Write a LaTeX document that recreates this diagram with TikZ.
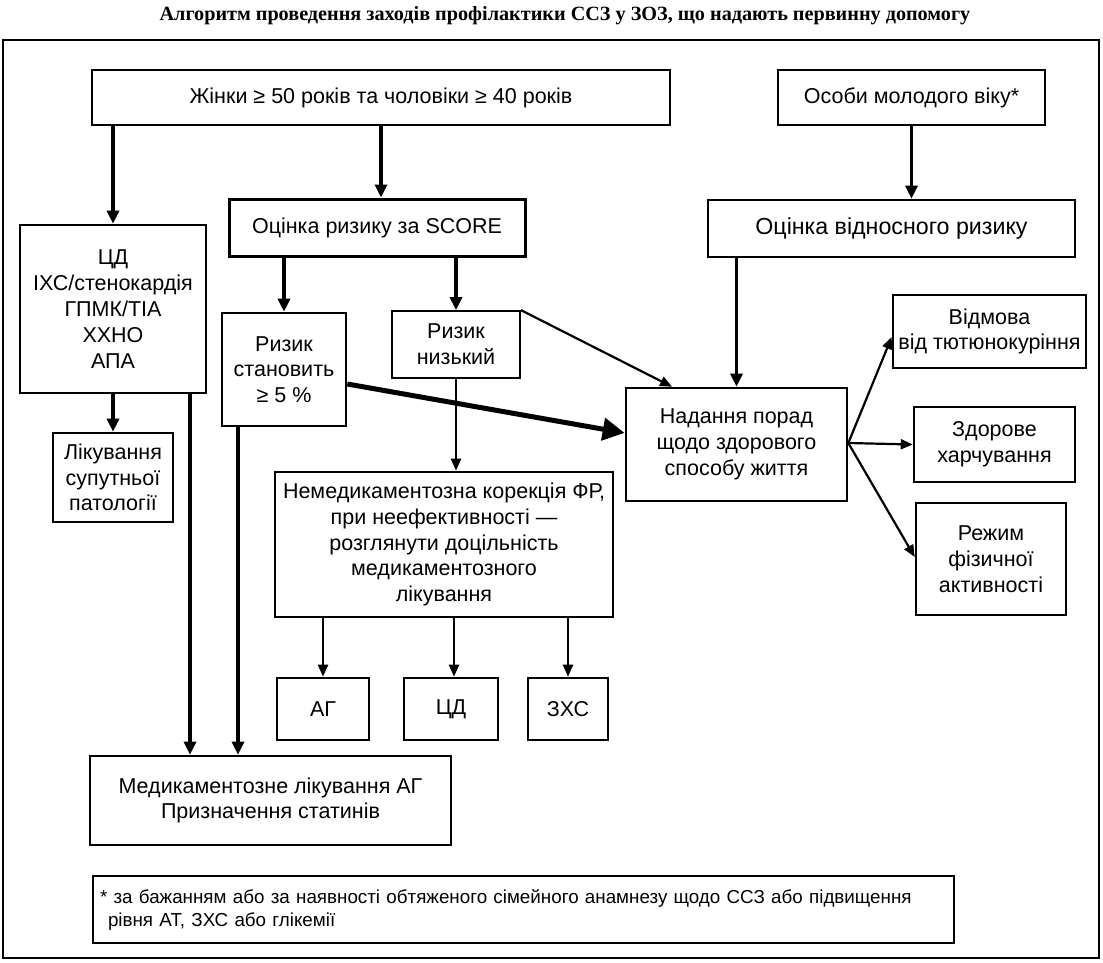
\documentclass[tikz,border=0pt]{standalone}
\usepackage{fontspec}
\setmainfont{Liberation Sans}
\newfontfamily\titlefont{Liberation Serif}
\usetikzlibrary{arrows.meta}
\begin{document}
\begin{tikzpicture}[x=1pt,y=-1pt,
  box/.style={draw, line width=2.6pt, inner sep=0pt, align=center,
    font=\fontsize{21.5}{25.8}\selectfont},
  thinbox/.style={box, line width=1.8pt},
  arr/.style={line width=3.2pt, -{Triangle[length=13pt,width=12pt]}},
  tarr/.style={line width=2.2pt, -{Triangle[length=12pt,width=10pt]}},
  bigarr/.style={line width=5pt, -{Triangle[length=22pt,width=22pt]}}
]
\useasboundingbox (0,0) rectangle (1103,962);
\fill[white] (0,0) rectangle (1103,962);
\node[font=\titlefont\bfseries\fontsize{20.2}{22}\selectfont] (title) at (565,16)
  {Алгоритм проведення заходів профілактики ССЗ у ЗОЗ, що надають первинну допомогу};
\draw[line width=1.6pt] (3,40) rectangle (1099,958);

\node[box, minimum width=578pt, minimum height=55pt] (zh) at (381,97.5)
  {Жінки ≥ 50 років та чоловіки ≥ 40 років};
\node[box, minimum width=267pt, minimum height=55pt] (os) at (911.5,97.5)
  {Особи молодого віку*};
\node[box, minimum width=186pt, minimum height=168pt] (cd) at (113,309)
  {ЦД\\ІХС/стенокардія\\ГПМК/ТІА\\ХХНО\\АПА};
\node[box, line width=3pt, minimum width=296pt, minimum height=57pt] (sc) at (377,227.5)
  {Оцінка ризику за SCORE};
\node[box, minimum width=367pt, minimum height=57pt, font=\fontsize{23.2}{26}\selectfont] (vr) at (891.5,228.5)
  {Оцінка відносного ризику};
\node[box, minimum width=124pt, minimum height=113pt] (r5) at (284,369.5)
  {Ризик\\становить\\≥ 5 \%};
\node[thinbox, minimum width=128pt, minimum height=67pt] (rl) at (456,344.5)
  {Ризик\\низький};
\node[box, minimum width=221pt, minimum height=113pt] (np) at (736.5,444.5)
  {Надання порад\\щодо здорового\\способу життя};
\node[box, minimum width=193pt, minimum height=73pt] (vt) at (989.5,331.5)
  {Відмова\\від тютюнокуріння};
\node[box, minimum width=161pt, minimum height=75pt] (zd) at (994.5,444.5)
  {Здорове\\харчування};
\node[box, minimum width=150pt, minimum height=112pt] (rf) at (991,559)
  {Режим\\фізичної\\активності};
\node[box, minimum width=120pt, minimum height=89pt] (ls) at (113,477.5)
  {Лікування\\супутньої\\патології};
\node[box, minimum width=338pt, minimum height=145pt] (nm) at (444,544.5)
  {Немедикаментозна корекція ФР,\\при неефективності —\\розглянути доцільність\\медикаментозного\\лікування};
\node[box, minimum width=92pt, minimum height=62pt] (ag) at (323,709) {АГ};
\node[box, minimum width=94pt, minimum height=62pt] (cd2) at (451,709) {ЦД};
\node[box, minimum width=80pt, minimum height=62pt] (zx) at (568,709) {ЗХС};
\node[box, minimum width=361pt, minimum height=89pt] (ml) at (270.5,800.5)
  {Медикаментозне лікування АГ\\Призначення статинів};
\node[draw, line width=1.4pt, inner xsep=7pt, inner ysep=0pt, text width=847pt,
  minimum height=67pt, align=left,
  font=\fontsize{18.8}{23}\selectfont] (fn) at (523.5,909.5)
  {* за бажанням або за наявності обтяженого сімейного анамнезу щодо ССЗ або підвищення\\
  \hspace*{8pt}рівня АТ, ЗХС або глікемії};

% connectors
\draw[arr] (zh.south -| cd.north) -- (cd.north);
\draw[arr] (zh.south) -- (sc.north -| zh.south);
\draw[arr] (os.south) -- (vr.north -| os.south);
\draw[arr] (sc.south -| r5.north) -- (r5.north);
\draw[arr] (sc.south -| rl.north) -- (rl.north);
\draw[arr] (vr.south -| np.north) -- (np.north);
\draw[tarr] (rl.north east) -- (np.north -| 672,0);
\draw[bigarr] (r5.east |- 0,384) -- (np.west |- 0,433);
\draw[tarr] (rl.south) -- (nm.north -| rl.south);
\draw[arr] (cd.south) -- (ls.north);
\draw[arr] (cd.south -| 190,0) -- (ml.north -| 190,0);
\draw[arr] (r5.south -| 238,0) -- (ml.north -| 238,0);
\draw[tarr] (nm.south -| ag.north) -- (ag.north);
\draw[tarr] (nm.south -| 454,0) -- (cd2.north -| 454,0);
\draw[tarr] (nm.south -| zx.north) -- (zx.north);
\draw[tarr] (np.east |- 0,443) -- (vt.west |- 0,337);
\draw[tarr] (np.east |- 0,443) -- (zd.west);
\draw[tarr] (np.east |- 0,443) -- (rf.west |- 0,557);
\end{tikzpicture}
\end{document}
